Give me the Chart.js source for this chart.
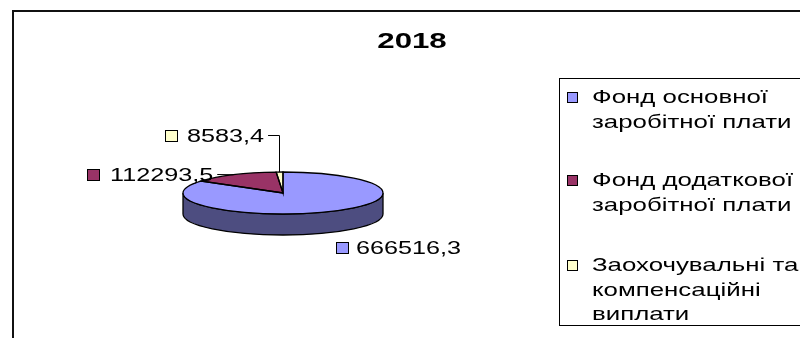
<!DOCTYPE html>
<html>
<head>
<meta charset="utf-8">
<script src="https://cdn.jsdelivr.net/npm/chart.js@4/dist/chart.umd.min.js"></script>
<style>
  html, body { margin: 0; padding: 0; background: #fff; }
  #wrap { width: 800px; height: 338px; position: relative; }
  canvas { display: block; }
</style>
</head>
<body>
<div id="wrap"><canvas id="c" width="800" height="338"></canvas></div>
<script>
// Wage fund structure, 2018
const chartTitle = '2018';
const categories = [
  ['Фонд основної', 'заробітної плати'],
  ['Фонд додаткової', 'заробітної плати'],
  ['Заохочувальні та', 'компенсаційні', 'виплати']
];
const values = [666516.3, 112293.5, 8583.4];
const sliceColors = ['#9999FF', '#993366', '#FFFFCC'];

// ---- layout / style ----
const FONT = '"Liberation Sans", Arial, "DejaVu Sans", sans-serif';
const PIE = { cx: 283, cy: 193, rx: 100, ry: 21, depth: 21 };
// value label placement: marker x, text x, baseline y
const LABEL_POS = [
  { mx: 336, tx: 356, by: 254 },
  { mx: 87,  tx: 110, by: 181 },
  { mx: 165, tx: 187, by: 142 }
];
const LABEL_LEADER = [false, true, true];
const LEGEND = { x: 559.5, y: 78.5, w: 260, h: 247, markX: 567, textX: 592, firstLines: [97, 180, 265], lineH: 24.5 };

function fmt(v) { return v.toFixed(1).replace('.', ','); }

function shade(hex, k) {
  const n = parseInt(hex.slice(1), 16);
  const r = Math.round(((n >> 16) & 255) * k);
  const g = Math.round(((n >> 8) & 255) * k);
  const b = Math.round((n & 255) * k);
  return 'rgb(' + r + ',' + g + ',' + b + ')';
}

function wideText(ctx, text, x, y, sx, align) {
  ctx.save();
  ctx.translate(x, y);
  ctx.scale(sx, 1);
  ctx.textAlign = align || 'left';
  ctx.fillText(text, 0, 0);
  ctx.restore();
}

function arcAngles(arc) {
  return arc.getProps(['startAngle', 'endAngle'], true);
}

// point on the top face of the tilted pie at a given angle
function topPoint(a) {
  return { x: PIE.cx + PIE.rx * Math.cos(a), y: PIE.cy + PIE.ry * Math.sin(a) };
}

// tilted pie: draws the visible rim, then squashes the library's arcs into an ellipse
const pie3d = {
  id: 'pie3d',
  beforeDatasetsDraw(chart) {
    const ctx = chart.ctx;
    const meta = chart.getDatasetMeta(0);
    meta.data.forEach((arc, i) => {
      const { startAngle, endAngle } = arcAngles(arc);
      // front-facing parts of the rim are where sin(angle) > 0
      [[-2 * Math.PI, -Math.PI], [0, Math.PI], [2 * Math.PI, 3 * Math.PI]].forEach(([lo, hi]) => {
        const a1 = Math.max(startAngle, lo), a2 = Math.min(endAngle, hi);
        if (a2 <= a1) return;
        ctx.save();
        ctx.beginPath();
        ctx.ellipse(PIE.cx, PIE.cy, PIE.rx, PIE.ry, 0, a1, a2, false);
        ctx.lineTo(PIE.cx + PIE.rx * Math.cos(a2), PIE.cy + PIE.depth + PIE.ry * Math.sin(a2));
        ctx.ellipse(PIE.cx, PIE.cy + PIE.depth, PIE.rx, PIE.ry, 0, a2, a1, true);
        ctx.closePath();
        ctx.fillStyle = shade(sliceColors[i], 0.5);
        ctx.fill();
        ctx.lineWidth = 1.3;
        ctx.strokeStyle = '#000';
        ctx.stroke();
        ctx.restore();
      });
    });
    const a0 = meta.data[0];
    ctx.save();
    ctx.translate(PIE.cx, PIE.cy);
    ctx.scale(PIE.rx / a0.outerRadius, PIE.ry / a0.outerRadius);
    ctx.translate(-a0.x, -a0.y);
  },
  afterDatasetsDraw(chart) {
    const ctx = chart.ctx;
    ctx.restore();
    const meta = chart.getDatasetMeta(0);
    ctx.save();
    ctx.lineWidth = 1.3;
    ctx.strokeStyle = '#000';
    meta.data.forEach((arc) => {
      const { startAngle, endAngle } = arcAngles(arc);
      const p = topPoint(startAngle);
      ctx.beginPath();
      ctx.moveTo(PIE.cx, PIE.cy);
      ctx.lineTo(p.x, p.y);
      ctx.ellipse(PIE.cx, PIE.cy, PIE.rx, PIE.ry, 0, startAngle, endAngle, false);
      ctx.closePath();
      ctx.stroke();
    });
    ctx.restore();
  }
};

// frame, title, legend and value labels
const decorations = {
  id: 'decorations',
  afterDraw(chart) {
    const ctx = chart.ctx;
    const meta = chart.getDatasetMeta(0);
    ctx.save();

    // outer frame
    ctx.strokeStyle = '#111';
    ctx.lineWidth = 2;
    ctx.strokeRect(13, 11, 800, 340);

    // title
    ctx.fillStyle = '#000';
    ctx.font = 'bold 22px ' + FONT;
    ctx.textBaseline = 'alphabetic';
    wideText(ctx, chartTitle, 412, 48, 1.42, 'center');

    // legend
    ctx.lineWidth = 1;
    ctx.strokeStyle = '#000';
    ctx.fillStyle = '#fff';
    ctx.fillRect(LEGEND.x, LEGEND.y, LEGEND.w, LEGEND.h);
    ctx.strokeRect(LEGEND.x, LEGEND.y, LEGEND.w, LEGEND.h);
    ctx.font = '19px ' + FONT;
    ctx.textBaseline = 'middle';
    categories.forEach((lines, i) => {
      const y0 = LEGEND.firstLines[i];
      ctx.fillStyle = sliceColors[i];
      ctx.fillRect(LEGEND.markX + 0.5, y0 - 4.5, 10, 10);
      ctx.strokeRect(LEGEND.markX + 0.5, y0 - 4.5, 10, 10);
      ctx.fillStyle = '#000';
      lines.forEach((t, j) => wideText(ctx, t, LEGEND.textX, y0 + j * LEGEND.lineH + 1, 1.36));
    });

    // value labels with leader lines
    ctx.font = '18px ' + FONT;
    ctx.textBaseline = 'alphabetic';
    meta.data.forEach((arc, i) => {
      const pos = LABEL_POS[i];
      const txt = fmt(values[i]);
      ctx.fillStyle = sliceColors[i];
      ctx.fillRect(pos.mx + 0.5, pos.by - 11.5, 12, 11);
      ctx.strokeStyle = '#000';
      ctx.lineWidth = 1;
      ctx.strokeRect(pos.mx + 0.5, pos.by - 11.5, 12, 11);
      ctx.fillStyle = '#000';
      wideText(ctx, txt, pos.tx, pos.by, 1.4);
      if (LABEL_LEADER[i]) {
        const { startAngle, endAngle } = arcAngles(arc);
        const p = topPoint((startAngle + endAngle) / 2);
        const xEnd = pos.tx + ctx.measureText(txt).width * 1.4 + 4;
        const ly = pos.by - 6.5;
        ctx.beginPath();
        ctx.moveTo(xEnd, ly);
        if (p.y < ly + 8 && p.y > ly - 8) {
          ctx.lineTo(p.x, p.y);
        } else {
          ctx.lineTo(Math.round(p.x) - 0.5, ly);
          ctx.lineTo(Math.round(p.x) - 0.5, p.y);
        }
        ctx.stroke();
      }
    });
    ctx.restore();
  }
};

new Chart(document.getElementById('c'), {
  type: 'pie',
  data: {
    labels: categories.map(l => l.join(' ')),
    datasets: [{ data: values, backgroundColor: sliceColors, borderWidth: 0 }]
  },
  options: {
    responsive: false,
    animation: false,
    events: [],
    plugins: {
      legend: { display: false },
      title: { display: false },
      tooltip: { enabled: false }
    }
  },
  plugins: [pie3d, decorations]
});
</script>
</body>
</html>
